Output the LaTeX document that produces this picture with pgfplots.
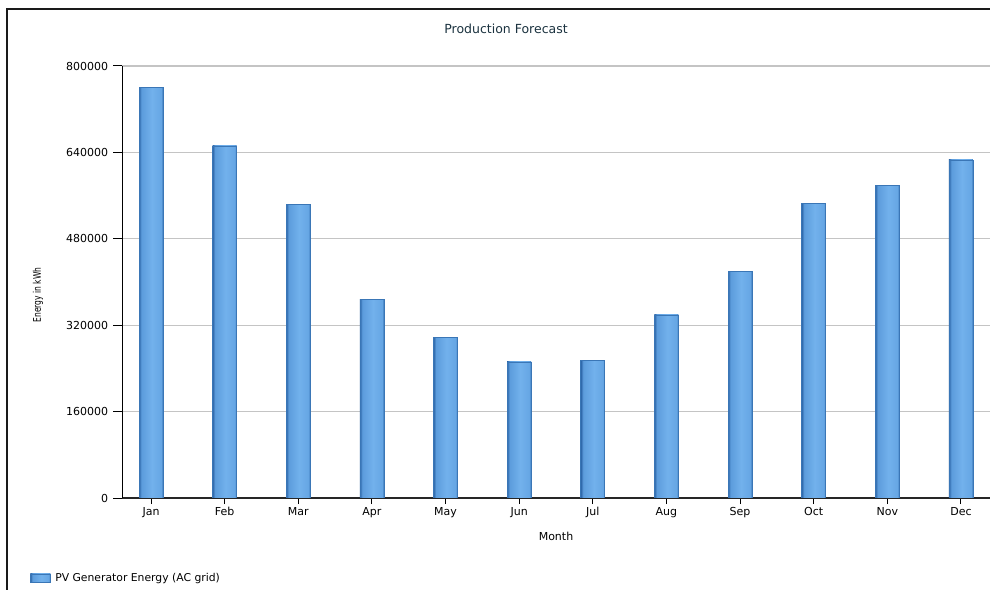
\documentclass[border=0pt]{standalone}
\usepackage{fontspec}
\setmainfont{DejaVu Sans}
\usepackage{pgfplots}
\usepackage{pgfplotstable}
\pgfplotsset{compat=1.18}

\definecolor{barL}{HTML}{2D66A8}
\definecolor{barM1}{HTML}{5C9CDC}
\definecolor{barM}{HTML}{72B1EC}
\definecolor{barR}{HTML}{66A6E4}
\definecolor{barEdge}{HTML}{3A76B6}
\definecolor{titlecol}{HTML}{1C3340}
\definecolor{gridcol}{HTML}{C4C4C4}
\definecolor{framecol}{HTML}{1A1A1A}

% left-to-right shading of one bar (bounding box maps to 25bp..75bp)
\pgfdeclarehorizontalshading{barshade}{100bp}{%
  color(0bp)=(barL); color(25bp)=(barL); color(30bp)=(barM1);
  color(52bp)=(barM); color(71bp)=(barR); color(75bp)=(barEdge);
  color(100bp)=(barEdge)}

% monthly AC energy of the PV generator, kWh
\pgfplotstableread{
m  e
0  760000
1  652000
2  544000
3  367000
4  298000
5  252000
6  254000
7  339000
8  419000
9  546000
10 578000
11 626000
}\production

\begin{document}
\begin{tikzpicture}
\useasboundingbox (0,0) rectangle (990bp,590bp);
\fill[white] (0,0) rectangle (990bp,590bp);
\draw[line width=2bp, color=framecol] (7bp,0) -- (7bp,581bp) -- (990bp,581bp);
\begin{axis}[
  at={(122bp,92bp)}, anchor=south west,
  width=868bp, height=432bp, scale only axis,
  xmin=-0.394, xmax=11.394, ymin=0, ymax=800000,
  axis x line*=bottom, axis y line*=left,
  x axis line style={black!85, line width=1.2bp},
  y axis line style={black, line width=1bp},
  tick align=outside,
  xtick={0,...,11},
  xticklabels={Jan,Feb,Mar,Apr,May,Jun,Jul,Aug,Sep,Oct,Nov,Dec},
  ytick={0,160000,320000,480000,640000,800000},
  yticklabels={0,160000,320000,480000,640000,800000},
  scaled y ticks=false,
  xtick style={black, line width=1bp, /pgfplots/major tick length=6bp},
  ytick style={black, line width=1bp, /pgfplots/major tick length=9bp},
  tick label style={font=\fontsize{11bp}{13bp}\selectfont, black},
  xticklabel style={yshift=-2bp, text height=8bp, text depth=2.5bp},
  yticklabel style={xshift=-6bp},
  ymajorgrids,
  major grid style={gridcol, line width=1.2bp},
  every axis title shift=0pt,
  title={Production Forecast},
  title style={at={(axis description cs:0.4424,1.086)}, anchor=center,
    font=\fontsize{12.5bp}{15bp}\selectfont, color=titlecol},
  xlabel={Month},
  xlabel style={at={(axis description cs:0.5,-0.09)}, anchor=center,
    font=\fontsize{11bp}{13bp}\selectfont},
  ylabel={Energy in kWh},
  ylabel style={at={(axis description cs:-0.0968,0.47)}, anchor=center,
    font=\fontsize{10.5bp}{12bp}\selectfont, xscale=0.72},
  legend style={at={(axis description cs:-0.106,-0.185)}, anchor=west,
    draw=none, fill=none, inner sep=0pt,
    font=\fontsize{10.8bp}{12bp}\selectfont,
    nodes={inner xsep=4.5bp}},
  legend cell align=left,
  legend image code/.code={
    \draw[draw=barEdge, line width=0.6bp, shading=barshade]
      (0bp,-4bp) rectangle (20bp,4bp);},
]
% one plot per month, so that every bar carries its own shading
\pgfplotsinvokeforeach{0,...,11}{
  \addplot[ybar, bar width=24bp, draw=barEdge, line width=0.8bp,
    shading=barshade, forget plot]
    table[x=m, y=e, restrict x to domain=#1:#1] {\production};
}
\addlegendimage{}
\addlegendentry{PV Generator Energy (AC grid)}
\end{axis}
\end{tikzpicture}
\end{document}
